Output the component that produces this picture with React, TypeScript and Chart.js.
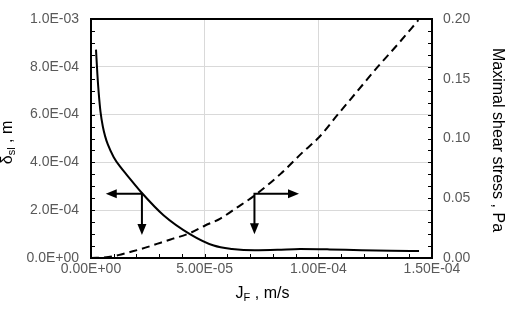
import React, { useEffect, useRef } from "react";
import { Chart, registerables } from "chart.js";

Chart.register(...registerables);

// Solid curve: film thickness delta_sl (m) vs J_F (m/s) — left axis
const jfSolid = [2.2e-6, 2.8e-6, 3.4e-6, 4.2e-6, 5.2e-6, 6.2e-6, 7.4e-6, 1.0e-5, 1.3e-5, 1.6e-5, 2.24e-5, 3.19e-5, 4.37e-5, 5.4e-5, 6.2e-5, 7.2e-5, 8.2e-5, 9.2e-5, 1.05e-4, 1.19e-4, 1.32e-4, 1.443e-4];
const deltaSl = [8.72e-4, 7.7e-4, 6.9e-4, 6.1e-4, 5.5e-4, 5.1e-4, 4.75e-4, 4.22e-4, 3.8e-4, 3.45e-4, 2.72e-4, 1.79e-4, 0.99e-4, 0.52e-4, 0.38e-4, 0.32e-4, 0.34e-4, 0.38e-4, 0.36e-4, 0.32e-4, 0.30e-4, 0.29e-4];

// Dashed curve: maximal shear stress (Pa) vs J_F (m/s) — right axis
const jfDashed = [0, 7.6e-6, 1.2e-5, 1.72e-5, 2.2e-5, 2.9e-5, 3.5e-5, 4.37e-5, 5.0e-5, 5.69e-5, 6.4e-5, 7.16e-5, 8.34e-5, 9.34e-5, 1.003e-4, 1.084e-4, 1.172e-4, 1.26e-4, 1.349e-4, 1.44e-4];
const shearStress = [0, 0.0008, 0.0024, 0.005, 0.0075, 0.0118, 0.0155, 0.021, 0.027, 0.033, 0.042, 0.0518, 0.0704, 0.089, 0.101, 0.1197, 0.1397, 0.1597, 0.1787, 0.199];

// Axis ranges / ticks
const xRange = [0, 1.5e-4];
const xStep = 5e-5;
const xMinor = 1e-5;
const yRange = [0, 1e-3];
const yStep = 2e-4;
const yMinor = 5e-5;
const y2Range = [0, 0.2];
const y2Step = 0.05;
const y2Minor = 0.01;

// Arrow annotations (data coordinates on x / left y axis)
const arrowCorners = [
  [2.24e-5, 2.69e-4],
  [7.19e-5, 2.69e-4],
];
const arrowHTips = [6.5e-6, 9.15e-5];
const arrowVTips = [0.96e-4, 0.99e-4];

const FONT = '"Liberation Sans", Arial, sans-serif';

function sci(v: number, digits: number): string {
  const s = Number(v).toExponential(digits);
  const [m, e] = s.split("e");
  const sign = e[0] === "-" ? "-" : "+";
  const n = Math.abs(parseInt(e, 10));
  return `${m}E${sign}${n < 10 ? "0" + n : n}`;
}

function arrowHead(ctx: CanvasRenderingContext2D, tx: number, ty: number, dx: number, dy: number) {
  const len = 11;
  const half = 4.5;
  const bx = tx - dx * len;
  const by = ty - dy * len;
  ctx.beginPath();
  ctx.moveTo(tx, ty);
  ctx.lineTo(bx - dy * half, by + dx * half);
  ctx.lineTo(bx + dy * half, by - dx * half);
  ctx.closePath();
  ctx.fill();
}

const decorPlugin = {
  id: "decor",
  afterDatasetsDraw(chart: any) {
    const ctx: CanvasRenderingContext2D = chart.ctx;
    const { left, right, top, bottom } = chart.chartArea;
    const xs = chart.scales.x;
    const ys = chart.scales.y;
    const y2 = chart.scales.y2;
    ctx.save();
    // minor ticks (inward)
    ctx.strokeStyle = "#000";
    ctx.lineWidth = 1;
    ctx.beginPath();
    const nx = Math.round((xRange[1] - xRange[0]) / xMinor);
    for (let i = 0; i <= nx; i++) {
      const px = Math.round(xs.getPixelForValue(xRange[0] + i * xMinor)) + 0.5;
      ctx.moveTo(px, bottom);
      ctx.lineTo(px, bottom - 4);
    }
    const ny = Math.round((yRange[1] - yRange[0]) / yMinor);
    for (let i = 0; i <= ny; i++) {
      const py = Math.round(ys.getPixelForValue(yRange[0] + i * yMinor)) + 0.5;
      ctx.moveTo(left, py);
      ctx.lineTo(left + 4, py);
    }
    const ny2 = Math.round((y2Range[1] - y2Range[0]) / y2Minor);
    for (let i = 0; i <= ny2; i++) {
      const py = Math.round(y2.getPixelForValue(y2Range[0] + i * y2Minor)) + 0.5;
      ctx.moveTo(right, py);
      ctx.lineTo(right - 4, py);
    }
    ctx.stroke();
    // frame
    ctx.lineWidth = 2;
    ctx.strokeRect(left, top, right - left, bottom - top);

    // arrows
    ctx.fillStyle = "#000";
    ctx.lineWidth = 2;
    for (let i = 0; i < arrowCorners.length; i++) {
      const cx = xs.getPixelForValue(arrowCorners[i][0]);
      const cy = ys.getPixelForValue(arrowCorners[i][1]);
      const hx = xs.getPixelForValue(arrowHTips[i]);
      const vy = ys.getPixelForValue(arrowVTips[i]);
      const dir = hx < cx ? -1 : 1;
      ctx.beginPath();
      ctx.moveTo(hx - dir * 10, cy);
      ctx.lineTo(cx, cy);
      ctx.lineTo(cx, vy - 10);
      ctx.stroke();
      arrowHead(ctx, hx, cy, dir, 0);
      arrowHead(ctx, cx, vy, 0, 1);
    }
    ctx.restore();
  },
  afterDraw(chart: any) {
    const ctx: CanvasRenderingContext2D = chart.ctx;
    const { left, right, top, bottom } = chart.chartArea;
    const big = `16px ${FONT}`;
    const small = `11px ${FONT}`;
    ctx.save();
    ctx.fillStyle = "#000";
    ctx.textBaseline = "alphabetic";
    ctx.textAlign = "left";

    const drawSub = (main: string, sub: string, rest: string) => {
      ctx.font = big;
      const w1 = ctx.measureText(main).width;
      const w3 = ctx.measureText(rest).width;
      ctx.font = small;
      const w2 = ctx.measureText(sub).width;
      const total = w1 + w2 + w3;
      let x = -total / 2;
      ctx.font = big;
      ctx.fillText(main, x, 0);
      x += w1;
      ctx.font = small;
      ctx.fillText(sub, x, 3);
      x += w2;
      ctx.font = big;
      ctx.fillText(rest, x, 0);
    };

    // x title: J_F , m/s
    ctx.save();
    ctx.translate((left + right) / 2 + 1, 298);
    drawSub("J", "F", " , m/s");
    ctx.restore();

    // left title: delta_sl , m
    ctx.save();
    ctx.translate(12, (top + bottom) / 2 + 4);
    ctx.rotate(-Math.PI / 2);
    drawSub("δ", "sl", " , m");
    ctx.restore();

    // right title
    ctx.save();
    ctx.translate(492.5, (top + bottom) / 2 + 1.5);
    ctx.rotate(Math.PI / 2);
    ctx.font = big;
    ctx.textAlign = "center";
    ctx.fillText("Maximal shear stress , Pa", 0, 0);
    ctx.restore();

    ctx.restore();
  },
};

export default function App() {
  const ref = useRef<HTMLCanvasElement | null>(null);

  useEffect(() => {
    document.body.style.margin = "0";
    if (!ref.current) return;
    const tickFont = { family: FONT, size: 14, lineHeight: 1 };
    const chart = new Chart(ref.current, {
      type: "line",
      data: {
        datasets: [
          {
            label: "δsl",
            data: jfSolid.map((x, i) => ({ x, y: deltaSl[i] })),
            borderColor: "#000",
            borderWidth: 2,
            pointRadius: 0,
            cubicInterpolationMode: "monotone",
            yAxisID: "y",
            fill: false,
          },
          {
            label: "Maximal shear stress",
            data: jfDashed.map((x, i) => ({ x, y: shearStress[i] })),
            borderColor: "#000",
            borderWidth: 2,
            borderDash: [8, 5],
            pointRadius: 0,
            cubicInterpolationMode: "monotone",
            yAxisID: "y2",
            fill: false,
          },
        ],
      },
      options: {
        animation: false,
        responsive: false,
        maintainAspectRatio: false,
        layout: { padding: { top: 8, left: 0, right: 0, bottom: 0 } },
        plugins: { legend: { display: false }, tooltip: { enabled: false } },
        scales: {
          x: {
            type: "linear",
            min: xRange[0],
            max: xRange[1],
            ticks: {
              stepSize: xStep,
              callback: (v: any) => sci(v, 2),
              color: "#595959",
              font: { family: FONT, size: 14 },
              padding: 3,
              maxRotation: 0,
              autoSkip: false,
            },
            grid: { color: "#d9d9d9", drawTicks: false, lineWidth: 1 },
            border: { display: false },
            afterFit: (s: any) => {
              s.height = 53;
            },
          },
          y: {
            position: "left",
            min: yRange[0],
            max: yRange[1],
            ticks: {
              stepSize: yStep,
              callback: (v: any) => sci(v, 1),
              color: "#595959",
              font: tickFont,
              padding: 12,
            },
            grid: { color: "#d9d9d9", drawTicks: false, lineWidth: 1 },
            border: { display: false },
            afterFit: (s: any) => {
              s.width = 91;
            },
          },
          y2: {
            position: "right",
            min: y2Range[0],
            max: y2Range[1],
            ticks: {
              stepSize: y2Step,
              callback: (v: any) => Number(v).toFixed(2),
              color: "#595959",
              font: tickFont,
              padding: 11,
            },
            grid: { display: false, drawTicks: false },
            border: { display: false },
            afterFit: (s: any) => {
              s.width = 73;
            },
          },
        },
      } as any,
      plugins: [decorPlugin],
    });
    return () => chart.destroy();
  }, []);

  return (
    <div style={{ width: 505, height: 311 }}>
      <canvas ref={ref} width={505} height={311} style={{ display: "block" }} />
    </div>
  );
}
